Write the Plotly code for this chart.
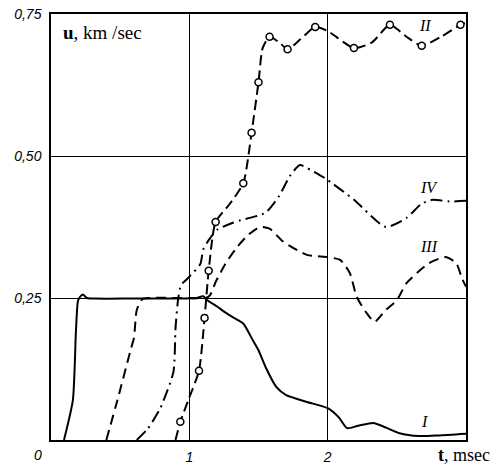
import plotly.graph_objects as go

# Curve I (solid)
t_I = [0.094, 0.158, 0.18, 0.195, 0.21, 0.23, 0.26, 0.32, 0.6, 0.9, 1.05, 1.1, 1.13, 1.2, 1.27, 1.33, 1.39, 1.46,
       1.50, 1.55, 1.63, 1.70, 1.85, 2.0, 2.08, 2.14, 2.22, 2.33, 2.42, 2.52, 2.66, 2.8, 3.0]
u_I = [0.0, 0.07, 0.19, 0.245, 0.252, 0.256, 0.25, 0.249, 0.249, 0.249, 0.25, 0.253, 0.246, 0.235, 0.223, 0.214,
       0.205, 0.175, 0.158, 0.129, 0.093, 0.079, 0.067, 0.056, 0.04, 0.021, 0.025, 0.030, 0.022, 0.012, 0.007, 0.008, 0.011]

# Curve III (dashed)
t_III = [0.40, 0.48, 0.575, 0.60, 0.62, 0.66, 0.72, 1.0, 1.12, 1.15, 1.19, 1.26, 1.34, 1.42, 1.51, 1.58, 1.68,
         1.85, 2.0, 2.09, 2.16, 2.21, 2.28, 2.34, 2.42, 2.50, 2.57, 2.73, 2.85, 2.93, 2.97, 3.0]
u_III = [0.0, 0.07, 0.158, 0.18, 0.229, 0.248, 0.25, 0.25, 0.25, 0.255, 0.278, 0.31, 0.338, 0.360, 0.375, 0.372,
         0.349, 0.326, 0.322, 0.317, 0.294, 0.252, 0.224, 0.208, 0.229, 0.246, 0.276, 0.311, 0.322, 0.311, 0.285, 0.27]

# Curve IV (dash-dot)
t_IV = [0.62, 0.70, 0.79, 0.885, 0.90, 0.92, 0.94, 0.99, 1.08, 1.10, 1.14, 1.2, 1.31, 1.37, 1.55, 1.65, 1.73,
        1.80, 1.88, 1.98, 2.19, 2.42, 2.57, 2.68, 2.76, 2.88, 3.0]
u_IV = [0.0, 0.02, 0.056, 0.12, 0.197, 0.25, 0.273, 0.285, 0.31, 0.335, 0.352, 0.37, 0.382, 0.387, 0.40, 0.43,
        0.466, 0.484, 0.475, 0.461, 0.423, 0.375, 0.391, 0.416, 0.423, 0.42, 0.421]

# Curve II (dashed line with open circles)
t_II = [0.90, 0.935, 1.0, 1.07, 1.11, 1.14, 1.19, 1.29, 1.39, 1.45, 1.50, 1.53, 1.58, 1.65, 1.71, 1.80, 1.91,
        2.0, 2.19, 2.32, 2.45, 2.57, 2.68, 2.82, 2.96, 3.0]
u_II = [0.0, 0.032, 0.075, 0.122, 0.215, 0.298, 0.384, 0.415, 0.452, 0.541, 0.63, 0.69, 0.71, 0.70, 0.688, 0.705,
        0.727, 0.72, 0.69, 0.70, 0.731, 0.71, 0.694, 0.71, 0.731, 0.735]
t_II_pts = [0.935, 1.07, 1.11, 1.14, 1.19, 1.39, 1.45, 1.50, 1.58, 1.71, 1.91, 2.19, 2.45, 2.68, 2.96]
u_II_pts = [0.032, 0.122, 0.215, 0.298, 0.384, 0.452, 0.541, 0.63, 0.71, 0.688, 0.727, 0.69, 0.731, 0.694, 0.731]

x_ticks = [1, 2]
x_ticktext = ["1", "2"]
y_ticks = [0.25, 0.5, 0.75]
y_ticktext = ["0,25", "0,50", "0,75"]

curve_labels = ["II", "IV", "III", "I"]
label_t = [2.7, 2.73, 2.73, 2.7]
label_u = [0.73, 0.445, 0.34, 0.032]

fig = go.Figure()
lw = 2
fig.add_trace(go.Scatter(x=t_I, y=u_I, mode="lines",
                         line=dict(color="black", width=lw, shape="spline", smoothing=0.6)))
fig.add_trace(go.Scatter(x=t_III, y=u_III, mode="lines",
                         line=dict(color="black", width=lw, shape="spline", smoothing=0.6, dash="10px,6px")))
fig.add_trace(go.Scatter(x=t_IV, y=u_IV, mode="lines",
                         line=dict(color="black", width=lw, shape="spline", smoothing=0.6,
                                   dash="12px,5px,2px,5px")))
fig.add_trace(go.Scatter(x=t_II, y=u_II, mode="lines",
                         line=dict(color="black", width=lw, shape="spline", smoothing=0.6, dash="10px,5px")))
fig.add_trace(go.Scatter(x=t_II_pts, y=u_II_pts, mode="markers",
                         marker=dict(symbol="circle", size=7, color="white",
                                     line=dict(color="black", width=1.5))))

tickfont = dict(family="Liberation Sans", size=14, color="black", style="italic")
fig.update_xaxes(range=[0, 3], tickvals=x_ticks, ticktext=x_ticktext, tickfont=tickfont,
                 showgrid=True, gridcolor="black", gridwidth=1, showline=True, linecolor="black",
                 linewidth=1.5, mirror=True, ticks="", zeroline=False, ticklabelstandoff=3,
                 automargin=False)
fig.update_yaxes(range=[0, 0.75], tickvals=y_ticks, ticktext=y_ticktext, tickfont=tickfont,
                 showgrid=True, gridcolor="black", gridwidth=1, showline=True, linecolor="black",
                 linewidth=1.5, mirror=True, ticks="", zeroline=False, ticklabelstandoff=5,
                 automargin=False)

annots = []
for lab, x, y in zip(curve_labels, label_t, label_u):
    annots.append(dict(x=x, y=y, xref="x", yref="y", text=lab, showarrow=False,
                       font=dict(family="Liberation Serif", size=16, color="black", style="italic")))
annots.append(dict(x=0, y=0, xref="paper", yref="paper", text="0", showarrow=False,
                   xanchor="center", yanchor="top", xshift=-13, yshift=-5, font=tickfont))
annots.append(dict(x=0.07, y=0.717, xref="x", yref="y", text="<b>u</b>, km /sec", showarrow=False,
                   xanchor="left", font=dict(family="Liberation Serif", size=19, color="black")))
annots.append(dict(x=1.0, y=0, xref="paper", yref="paper", text="<b>t</b>, msec", showarrow=False,
                   xanchor="right", yanchor="top", yshift=-3, xshift=26,
                   font=dict(family="Liberation Serif", size=18, color="black")))

fig.update_layout(width=493, height=465, margin=dict(l=51, r=27, t=14, b=25, autoexpand=False),
                  paper_bgcolor="white", plot_bgcolor="white", showlegend=False,
                  annotations=annots)
fig.write_html("out.html", config={"displayModeBar": False},
               post_script="document.body.style.margin='0';document.body.style.padding='0';")
